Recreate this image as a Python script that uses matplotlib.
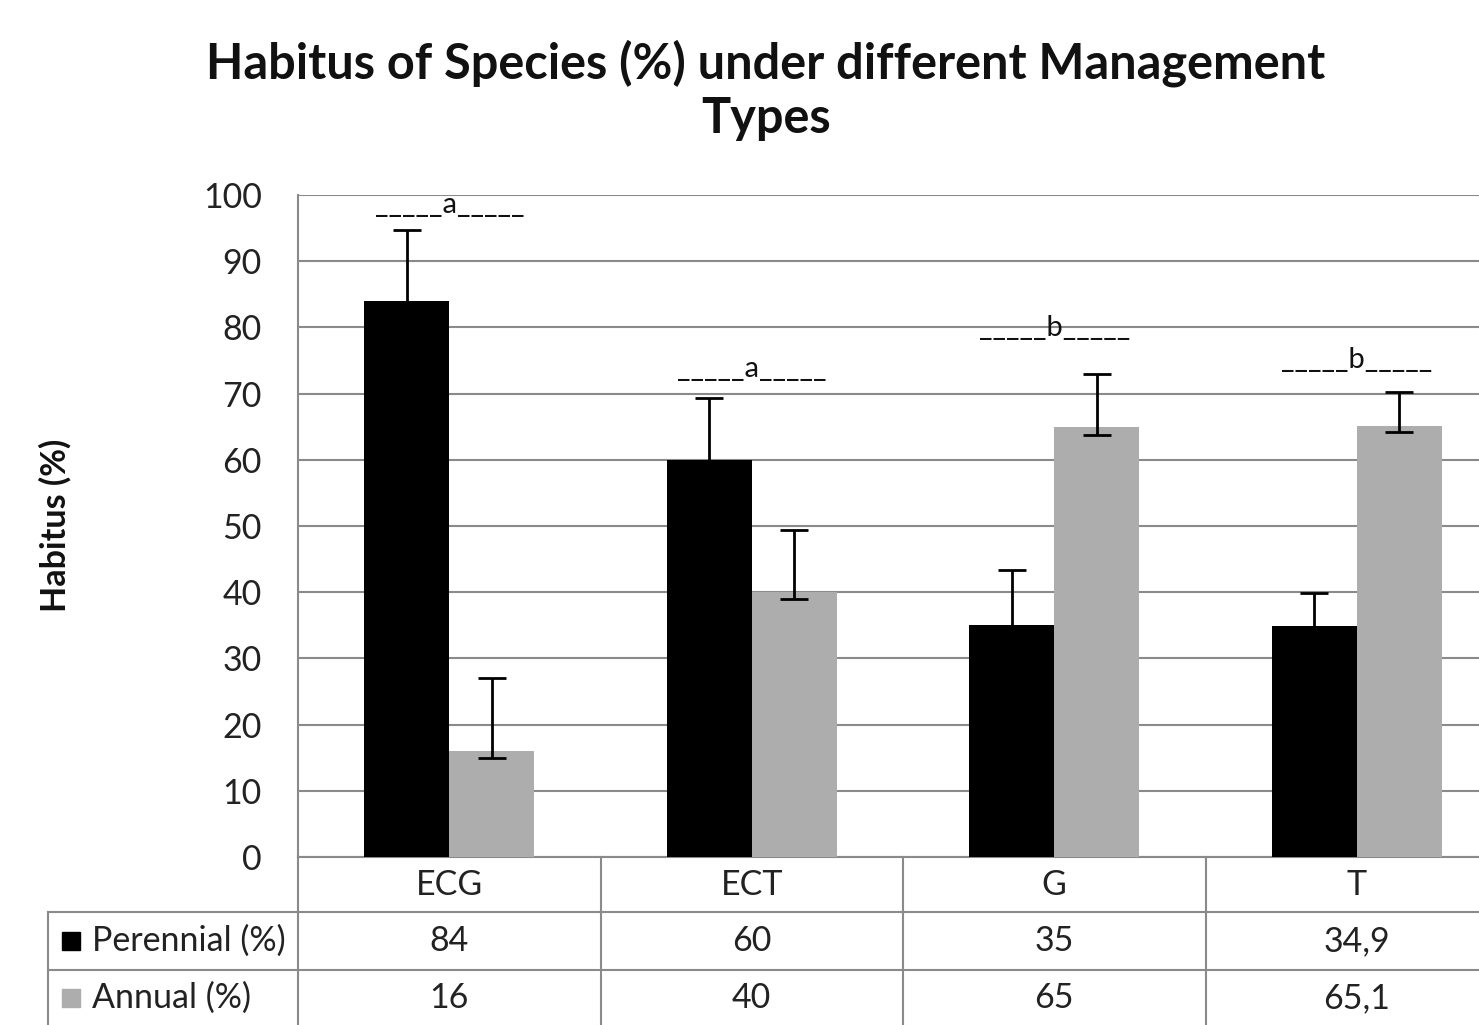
import numpy as np
import matplotlib
matplotlib.use('Agg')
import matplotlib.pyplot as plt
import matplotlib.transforms as mtransforms
from matplotlib.patches import Rectangle
from matplotlib.lines import Line2D

# ---- data ----
categories = ['ECG', 'ECT', 'G', 'T']
perennial = [84, 60, 35, 34.9]
annual = [16, 40, 65, 65.1]
perennial_labels = ['84', '60', '35', '34,9']
annual_labels = ['16', '40', '65', '65,1']
perennial_err_low = [83, 59, 34, 33.9]
perennial_err_high = [94.7, 69.4, 43.3, 39.9]
annual_err_low = [15, 39, 63.8, 64.2]
annual_err_high = [27, 49.4, 73, 70.2]
sig_letters = ['a', 'a', 'b', 'b']
sig_heights = [97.3, 72.5, 78.7, 73.9]
yticks = list(range(0, 101, 10))
series_names = ['Perennial (%)', 'Annual (%)']
title = 'Habitus of Species (%) under different Management\nTypes'
ylabel = 'Habitus (%)'

# ---- styles ----
W, H = 1479, 1025
BLACK = '#000000'
GRAY = '#adadad'
LINE = '#8a8a8a'
FS = 24.5

plt.rcParams['font.family'] = ['Lato', 'DejaVu Sans']

fig = plt.figure(figsize=(W / 100, H / 100), dpi=100)
ax = fig.add_axes([298 / W, (H - 857) / H, 1210 / W, 662 / H])

x = np.arange(len(categories)) + 0.5
bw = 85 / 302.5
xp = x - bw / 2
xa = x + bw / 2
ax.bar(xp, perennial, bw, color=BLACK, zorder=3)
ax.bar(xa, annual, bw, color=GRAY, zorder=3)

p = np.array(perennial); a = np.array(annual)
ax.errorbar(xp, p, yerr=[p - np.array(perennial_err_low), np.array(perennial_err_high) - p],
            fmt='none', ecolor='black', elinewidth=2, capsize=10, capthick=2, zorder=4)
ax.errorbar(xa, a, yerr=[a - np.array(annual_err_low), np.array(annual_err_high) - a],
            fmt='none', ecolor='black', elinewidth=2, capsize=10, capthick=2, zorder=4)

for xi, letter, h in zip(x, sig_letters, sig_heights):
    ax.text(xi, h, '_____' + letter + '_____', ha='center', va='baseline', fontsize=21, color='#111111', zorder=5)

ax.set_xlim(0, len(categories))
ax.set_ylim(0, 100)
ax.set_yticks(yticks)
ax.set_xticks([])
ax.yaxis.grid(True, color=LINE, lw=1.5)
ax.set_axisbelow(True)
for s in ['top', 'right']:
    ax.spines[s].set_visible(False)
for s in ['left', 'bottom']:
    ax.spines[s].set_color(LINE)
    ax.spines[s].set_linewidth(1.5)
ax.tick_params(axis='y', length=0, pad=26, labelsize=FS, labelcolor='#222222')

# title and y label
fig.text(766 / W, 1 - 90 / H, title, ha='center', va='center', fontsize=35,
         fontweight='bold', linespacing=1.25, color='#111111')
fig.text(55 / W, 1 - 525 / H, ylabel, rotation=90, ha='center', va='center',
         fontsize=FS, fontweight='bold', color='#111111')

# ---- data table ----
blend = mtransforms.blended_transform_factory(ax.transData, ax.transAxes)

def fy(py):
    return 1 - py / H

def fx(px):
    return px / W

def axy(py):
    return (857 - py) / 662

def hline(py, x0, x1):
    fig.add_artist(Line2D([fx(x0), fx(x1)], [fy(py), fy(py)], color=LINE, lw=1.5,
                          transform=fig.transFigure, clip_on=False))

def vline(px, y0, y1):
    fig.add_artist(Line2D([fx(px), fx(px)], [fy(y0), fy(y1)], color=LINE, lw=1.5,
                          transform=fig.transFigure, clip_on=False))

hline(912, 48, W)
hline(970, 48, W)
vline(48, 912, 1025)
vline(298, 857, 1025)
for b in range(1, len(categories)):
    ax.add_line(Line2D([b, b], [0, axy(1025)], color=LINE, lw=1.5, transform=blend, clip_on=False))

for xi, c in zip(x, categories):
    ax.text(xi, axy(885), c, transform=blend, ha='center', va='center', fontsize=FS, color='#222222')
for xi, lab in zip(x, perennial_labels):
    ax.text(xi, axy(941), lab, transform=blend, ha='center', va='center', fontsize=FS, color='#222222')
for xi, lab in zip(x, annual_labels):
    ax.text(xi, axy(998), lab, transform=blend, ha='center', va='center', fontsize=FS, color='#222222')

for py, name, col in [(941, series_names[0], BLACK), (998, series_names[1], GRAY)]:
    fig.add_artist(Rectangle((fx(62), fy(py + 9)), 18 / W, 18 / H, color=col, transform=fig.transFigure))
    fig.text(fx(92), fy(py), name, ha='left', va='center', fontsize=FS, color='#222222')

fig.savefig('out.png', dpi=100)
